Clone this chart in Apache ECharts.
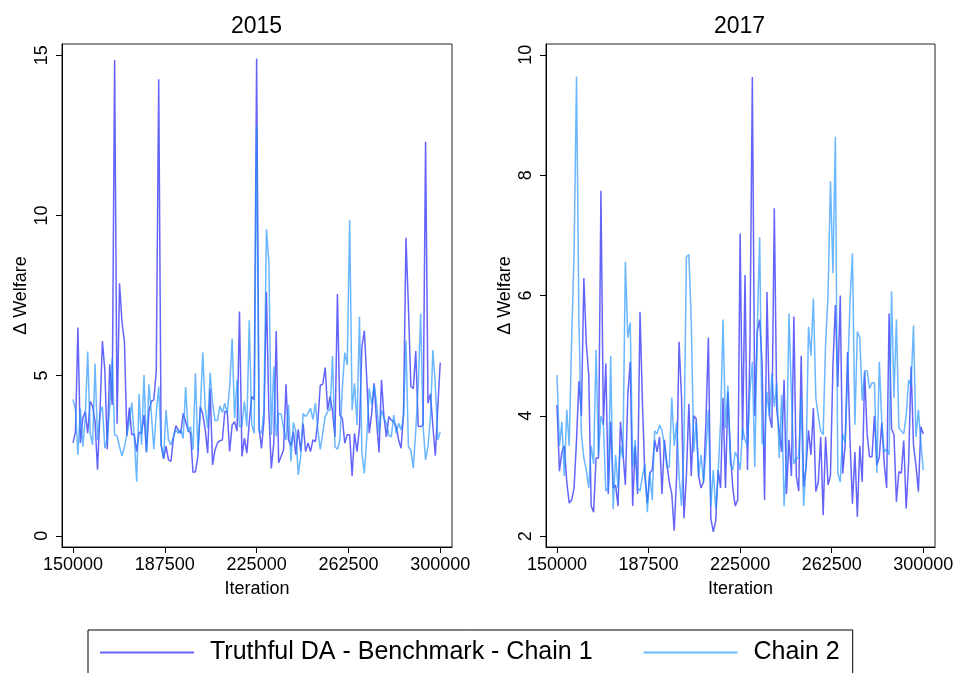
<!DOCTYPE html>
<html>
<head>
<meta charset="utf-8">
<script src="https://cdn.jsdelivr.net/npm/echarts@6/dist/echarts.min.js"></script>
<style>
html,body{margin:0;padding:0;background:#fff;}
#chart{width:959px;height:673px;}
</style>
</head>
<body>
<div id="chart"></div>
<script>
// Iterations (x values): 150000 .. 300000 every 1000
const iterations = [];
for (let i = 0; i <= 150; i++) iterations.push(150000 + i * 1000);

const xTickValues = [150000, 187500, 225000, 262500, 300000];
const yTicks2015 = [0, 5, 10, 15];
const yTicks2017 = [2, 4, 6, 8, 10];
const panelTitles = ['2015', '2017'];
const seriesNames = ['Truthful DA - Benchmark - Chain 1', 'Chain 2'];

// 2015 panel
const chain1_2015 = [
 2.9, 3.25, 6.5, 2.9, 3.67, 3.88, 3.2, 4.2, 4.05, 3.57,
 2.06, 3.82, 6.08, 5.17, 2.7, 5.35, 4.08, 14.85, 3.5, 7.88,
 6.68, 6.06, 3.12, 4.0, 3.15, 3.18, 2.63, 3.23, 3.2, 3.77,
 2.6, 3.88, 4.2, 4.24, 5.13, 14.25, 2.84, 2.4, 2.8, 2.37,
 2.32, 3.05, 3.44, 3.3, 3.2, 3.82, 3.56, 3.3, 3.2, 1.98,
 2.0, 2.48, 4.03, 3.8, 3.3, 2.58, 4.6, 2.21, 2.68, 2.9,
 2.97, 2.99, 3.88, 3.88, 2.63, 3.46, 3.56, 3.27, 7.0, 2.48,
 3.05, 2.58, 3.56, 4.35, 4.24, 14.9, 3.36, 2.73, 3.61, 7.62,
 3.88, 2.1, 2.89, 6.39, 2.28, 2.48, 2.68, 4.73, 3.0, 2.8,
 3.25, 2.53, 3.32, 2.63, 3.5, 2.63, 2.9, 2.63, 2.99, 2.94,
 3.56, 4.7, 4.73, 5.25, 3.93, 4.35, 3.88, 3.09, 7.55, 3.77,
 3.67, 2.89, 3.15, 3.15, 1.87, 3.2, 2.63, 3.36, 5.9, 6.4,
 4.87, 3.2, 3.82, 4.76, 3.56, 2.6, 4.87, 3.72, 3.09, 3.72,
 3.61, 3.56, 3.41, 2.99, 2.73, 3.82, 9.3, 7.15, 4.66, 4.6,
 5.77, 3.41, 3.41, 3.46, 12.3, 4.14, 4.43, 3.41, 2.5, 4.03, 5.4
];
const chain2_2015 = [
 4.26, 3.93, 2.53, 3.98, 2.78, 3.67, 5.75, 3.2, 2.84, 5.38,
 2.99, 3.82, 4.03, 2.73, 3.04, 4.0, 5.54, 3.15, 3.12, 2.78,
 2.49, 2.78, 3.15, 3.56, 4.16, 3.09, 1.69, 4.43, 2.84, 5.02,
 2.63, 4.73, 3.82, 2.7, 3.82, 4.66, 2.84, 2.42, 3.93, 2.99,
 2.84, 3.09, 3.3, 3.2, 3.3, 3.04, 4.64, 3.25, 3.41, 2.68,
 5.07, 2.63, 3.93, 5.72, 3.98, 3.36, 5.09, 4.14, 3.6, 3.6,
 4.05, 3.85, 4.14, 3.82, 4.66, 6.16, 3.67, 4.87, 3.41, 3.43,
 4.19, 3.41, 6.73, 3.46, 3.2, 12.8, 3.3, 3.2, 3.93, 9.57,
 8.55, 3.15, 5.28, 3.1, 3.82, 3.8, 3.36, 2.99, 4.09, 2.32,
 3.54, 3.25, 1.9, 2.48, 3.82, 3.72, 3.82, 3.98, 3.63, 4.14,
 3.3, 2.7, 3.2, 3.72, 3.88, 3.93, 5.61, 2.78, 2.7, 2.99,
 4.6, 5.72, 5.33, 9.85, 3.93, 4.76, 3.46, 6.84, 2.58, 1.95,
 3.09, 4.6, 4.09, 4.7, 4.14, 3.2, 3.93, 3.67, 3.51, 3.15,
 3.09, 3.77, 3.2, 3.51, 3.3, 3.72, 6.09, 2.78, 2.68, 2.11,
 3.3, 4.66, 6.94, 3.41, 2.37, 2.78, 3.72, 5.8, 4.7, 2.99, 3.25
];

// 2017 panel
const chain1_2017 = [
 4.18, 3.08, 3.4, 3.5, 2.9, 2.55, 2.6, 2.8, 3.6, 4.58,
 4.0, 6.29, 5.2, 4.68, 2.5, 2.4, 3.3, 3.3, 7.74, 3.85,
 4.87, 2.7, 3.9, 2.8, 2.85, 2.5, 3.9, 3.4, 2.85, 4.34,
 4.9, 2.5, 3.5, 2.7, 5.73, 4.2, 3.0, 2.55, 3.05, 3.1,
 3.6, 3.4, 3.65, 2.7, 3.6, 3.2, 2.9, 2.7, 2.09, 3.0,
 5.23, 4.3, 2.3, 3.0, 4.2, 3.0, 4.0, 3.95, 3.0, 2.8,
 2.9, 3.9, 5.3, 2.3, 2.07, 2.25, 3.1, 2.8, 4.3, 2.8,
 4.4, 3.4, 2.8, 2.5, 2.6, 7.03, 3.6, 6.34, 3.1, 5.1,
 9.63, 4.0, 5.4, 5.6, 4.85, 2.6, 6.06, 4.0, 3.8, 7.45,
 4.1, 3.75, 3.4, 4.6, 2.7, 3.6, 3.0, 5.65, 3.0, 2.75,
 5.0, 2.82, 3.15, 3.76, 3.35, 4.13, 2.74, 2.9, 3.65, 2.35,
 3.65, 2.85, 3.01, 4.82, 5.84, 4.48, 6.0, 3.04, 3.51, 5.06,
 3.59, 2.54, 3.4, 2.32, 3.5, 2.9, 4.73, 3.7, 3.32, 3.32,
 4.0, 3.18, 3.32, 3.89, 3.21, 2.8, 5.7, 3.79, 3.68, 2.57,
 3.07, 3.05, 3.59, 2.46, 3.22, 4.82, 3.51, 3.18, 2.74, 3.82, 3.7
];
const chain2_2017 = [
 4.68, 3.5, 3.9, 3.0, 4.1, 3.5, 5.26, 6.7, 9.64, 5.54,
 3.7, 3.3, 3.1, 2.8, 3.5, 3.2, 5.1, 3.35, 4.0, 3.85,
 2.75, 2.8, 5.0, 2.45, 3.35, 2.8, 3.5, 3.3, 6.56, 5.3,
 5.55, 3.15, 3.6, 2.8, 2.75, 3.0, 3.2, 2.4, 3.05, 2.6,
 3.75, 3.7, 3.85, 3.75, 3.5, 3.15, 3.15, 4.3, 3.5, 3.9,
 3.0, 2.5, 3.5, 6.64, 6.68, 5.55, 3.4, 3.9, 3.0, 3.35,
 2.9, 3.4, 4.1, 2.5, 3.1, 2.45, 3.05, 3.9, 5.6, 3.8,
 4.5, 3.2, 3.1, 3.4, 3.3, 3.1, 3.8, 3.6, 3.5, 4.4,
 4.9, 3.15, 5.4, 6.97, 3.55, 3.5, 4.4, 4.0, 4.7, 4.15,
 4.55, 3.3, 4.35, 2.5, 3.25, 5.7, 4.35, 3.2, 3.3, 3.3,
 4.3, 2.5, 3.2, 5.48, 5.0, 5.95, 4.3, 4.0, 3.75, 3.68,
 5.2, 6.0, 7.9, 6.37, 8.64, 3.05, 2.9, 3.7, 3.55, 4.6,
 5.9, 6.7, 3.85, 5.4, 5.3, 4.25, 4.75, 4.75, 4.45, 4.55,
 4.55, 3.05, 4.9, 3.9, 3.4, 3.45, 3.35, 6.07, 4.3, 5.6,
 3.8, 3.75, 3.7, 4.0, 4.6, 4.5, 5.5, 3.65, 4.1, 3.55, 3.1
];

const FONT = "'Liberation Sans', Arial, sans-serif";
const C1 = 'rgba(40,40,250,0.72)';
const C2 = 'rgba(30,145,255,0.66)';

function pairs(vals) { return vals.map((v, i) => [iterations[i], v]); }

function xAxisCfg(gi) {
  return {
    type: 'value', gridIndex: gi, min: 145500, max: 304800,
    name: 'Iteration', nameLocation: 'middle', nameGap: 33,
    nameTextStyle: { fontSize: 18, color: '#000', fontFamily: FONT },
    axisLine: { show: true, onZero: false, lineStyle: { color: '#000', width: 1 } },
    axisTick: { show: true, length: 6, customValues: xTickValues, lineStyle: { color: '#000' } },
    axisLabel: { customValues: xTickValues, formatter: v => String(v), fontSize: 18, color: '#000', fontFamily: FONT, margin: 9 },
    splitLine: { show: false }
  };
}
function yAxisCfg(gi, mn, mx, ticks) {
  return {
    type: 'value', gridIndex: gi, min: mn, max: mx,
    name: 'Δ Welfare', nameLocation: 'middle', nameGap: 32, nameRotate: 90,
    nameTextStyle: { fontSize: 18, color: '#000', fontFamily: FONT },
    axisLine: { show: true, onZero: false, lineStyle: { color: '#000', width: 1 } },
    axisTick: { show: true, length: 6, customValues: ticks, lineStyle: { color: '#000' } },
    axisLabel: { customValues: ticks, formatter: v => String(v), rotate: 90, fontSize: 18, color: '#000', fontFamily: FONT, margin: 11 },
    splitLine: { show: false }
  };
}
function lineSeries(name, vals, color, gi) {
  return {
    name: name, type: 'line', xAxisIndex: gi, yAxisIndex: gi,
    data: pairs(vals), showSymbol: false, symbol: 'none',
    color: color, lineStyle: { color: color, width: 1.5 },
    emphasis: { disabled: true }
  };
}

const chart = echarts.init(document.getElementById('chart'), null, { renderer: 'canvas' });
chart.setOption({
  animation: false,
  backgroundColor: '#fff',
  title: [
    { text: panelTitles[0], left: 226, top: 10, textStyle: { fontSize: 23, fontWeight: 'normal', color: '#000', fontFamily: FONT } },
    { text: panelTitles[1], left: 709, top: 10, textStyle: { fontSize: 23, fontWeight: 'normal', color: '#000', fontFamily: FONT } }
  ],
  grid: [
    { left: 62, top: 44, width: 390, height: 503, show: true, borderColor: '#222', borderWidth: 1, backgroundColor: '#fff' },
    { left: 546, top: 44, width: 389, height: 503, show: true, borderColor: '#222', borderWidth: 1, backgroundColor: '#fff' }
  ],
  xAxis: [xAxisCfg(0), xAxisCfg(1)],
  yAxis: [yAxisCfg(0, -0.35, 15.35, yTicks2015), yAxisCfg(1, 1.82, 10.18, yTicks2017)],
  legend: {
    left: 88, top: 630, orient: 'horizontal', icon: 'rect',
    itemWidth: 94, itemHeight: 2, itemGap: 51,
    padding: [10, 13, 30, 12],
    borderColor: '#000', borderWidth: 1,
    textStyle: { fontSize: 25, color: '#000', fontFamily: FONT, padding: [0, 0, 0, 11] },
    data: seriesNames
  },
  series: [
    lineSeries(seriesNames[0], chain1_2015, C1, 0),
    lineSeries(seriesNames[1], chain2_2015, C2, 0),
    lineSeries(seriesNames[0], chain1_2017, C1, 1),
    lineSeries(seriesNames[1], chain2_2017, C2, 1)
  ]
});
</script>
</body>
</html>
